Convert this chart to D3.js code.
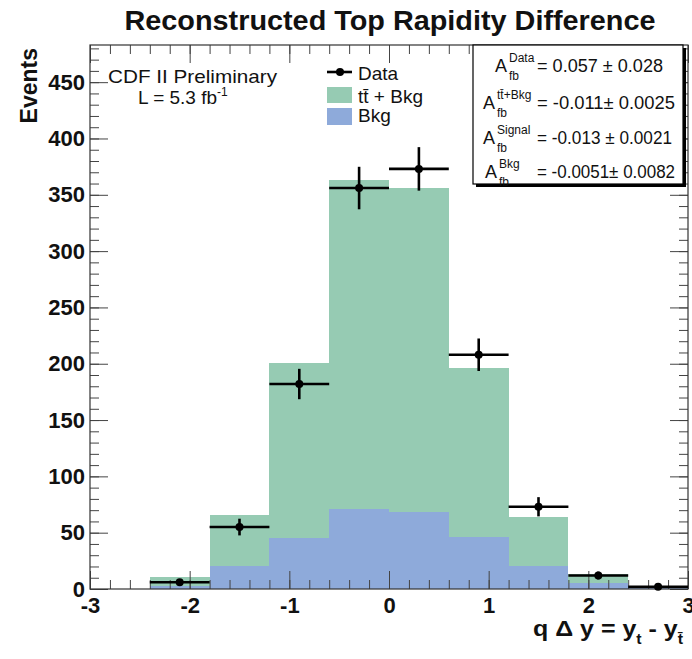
<!DOCTYPE html>
<html><head><meta charset="utf-8">
<script src="https://cdn.jsdelivr.net/npm/d3@7"></script>
<style>body{margin:0;background:#fff}svg text{font-family:"Liberation Sans",Arial,Helvetica,sans-serif}</style>
</head><body>
<svg id="c" width="692" height="659"></svg>
<script>
const binEdges = [-3, -2.4, -1.8, -1.2, -0.6, 0, 0.6, 1.2, 1.8, 2.4, 3];
const ttbarBkg = [0, 10.5, 65.5, 201, 363, 356, 196, 63.5, 13, 2];
const bkgOnly  = [0, 2.5, 20, 45.5, 71, 68.5, 46.5, 20, 5, 1];
const dataCounts = [null, 6, 55, 182, 356, 373, 208, 73, 12, 2];
const xTicks = [-3, -2, -1, 0, 1, 2, 3];
const yTicks = [0, 50, 100, 150, 200, 250, 300, 350, 400, 450];
const statLabels = ["Data", "t\u0074\u0304+Bkg", "Signal", "Bkg"];
const statValues = ["= 0.057 \u00b1 0.028", "= -0.011\u00b1 0.0025", "= -0.013 \u00b1 0.0021", "= -0.0051\u00b1 0.0082"];

const svg = d3.select("#c");
const L = 90, R = 688, T = 45, B = 589;
const x = d3.scaleLinear().domain([-3, 3]).range([L, R]);
const y = d3.scaleLinear().domain([0, 483]).range([B, T]);
const green = "#96cbb3", blue = "#8eaada";
const fmt = v => String(v).replace("\u2212", "-");

const bins = ttbarBkg.map((v, i) => ({x0: binEdges[i], x1: binEdges[i+1], tot: v, bkg: bkgOnly[i], d: dataCounts[i]}));

// histograms
svg.append("g").selectAll("rect").data(bins).join("rect")
  .attr("x", d => x(d.x0)).attr("width", d => x(d.x1) - x(d.x0))
  .attr("y", d => y(d.tot)).attr("height", d => y(0) - y(d.tot))
  .attr("fill", green).attr("shape-rendering", "crispEdges");
svg.append("g").selectAll("rect").data(bins).join("rect")
  .attr("x", d => x(d.x0)).attr("width", d => x(d.x1) - x(d.x0))
  .attr("y", d => y(d.bkg)).attr("height", d => y(0) - y(d.bkg))
  .attr("fill", blue).attr("shape-rendering", "crispEdges");

// axes (ticks inside)
const minorX = d3.range(-3, 3.001, 0.2).map(v => +v.toFixed(2));
const minorY = d3.range(0, 481, 10);
const tc = "#444";
function styleAxis(g){ g.select(".domain").remove(); g.selectAll("line").attr("stroke", tc); }
const labStyle = g => g.selectAll("text").attr("font-size", 22).attr("font-weight", "bold").attr("fill", "#111").attr("font-family", "'Liberation Sans',Arial,sans-serif");
svg.append("g").attr("transform", `translate(0,${B})`)
  .call(d3.axisBottom(x).tickValues(minorX).tickSize(-9).tickFormat("")).call(styleAxis);
svg.append("g").attr("transform", `translate(0,${B})`)
  .call(d3.axisBottom(x).tickValues(xTicks).tickSize(-18).tickPadding(8).tickFormat(fmt))
  .call(styleAxis).call(labStyle);
svg.append("g").attr("transform", `translate(0,${T})`)
  .call(d3.axisTop(x).tickValues(minorX).tickSize(-9).tickFormat("")).call(styleAxis);
svg.append("g").attr("transform", `translate(0,${T})`)
  .call(d3.axisTop(x).tickValues(xTicks).tickSize(-18).tickFormat("")).call(styleAxis);
svg.append("g").attr("transform", `translate(${L},0)`)
  .call(d3.axisLeft(y).tickValues(minorY).tickSize(-9).tickFormat("")).call(styleAxis);
svg.append("g").attr("transform", `translate(${L},0)`)
  .call(d3.axisLeft(y).tickValues(yTicks).tickSize(-18).tickPadding(5).tickFormat(fmt))
  .call(styleAxis).call(labStyle);
svg.append("g").attr("transform", `translate(${R},0)`)
  .call(d3.axisRight(y).tickValues(minorY).tickSize(-9).tickFormat("")).call(styleAxis);
svg.append("g").attr("transform", `translate(${R},0)`)
  .call(d3.axisRight(y).tickValues(yTicks).tickSize(-18).tickFormat("")).call(styleAxis);

// frame
svg.append("rect").attr("x", L).attr("y", T).attr("width", R - L).attr("height", B - T)
  .attr("fill", "none").attr("stroke", "#333").attr("stroke-width", 1.2);

// data points
const pts = bins.filter(d => d.d !== null);
const gp = svg.append("g").attr("stroke", "#000").attr("stroke-width", 2.6);
gp.selectAll("line.h").data(pts).join("line").attr("class", "h")
  .attr("x1", d => x(d.x0)).attr("x2", d => x(d.x1))
  .attr("y1", d => y(d.d)).attr("y2", d => y(d.d));
gp.selectAll("line.v").data(pts).join("line").attr("class", "v")
  .attr("x1", d => x((d.x0 + d.x1) / 2)).attr("x2", d => x((d.x0 + d.x1) / 2))
  .attr("y1", d => y(d.d + Math.sqrt(d.d))).attr("y2", d => y(d.d - Math.sqrt(d.d)));
svg.append("g").selectAll("circle").data(pts).join("circle")
  .attr("cx", d => x((d.x0 + d.x1) / 2)).attr("cy", d => y(d.d)).attr("r", 4).attr("fill", "#000");

// title
svg.append("text").attr("x", 390).attr("y", 30).attr("text-anchor", "middle")
  .attr("font-size", 28).attr("font-weight", "bold").attr("fill", "#111")
  .attr("textLength", 531).attr("lengthAdjust", "spacingAndGlyphs")
  .text("Reconstructed Top Rapidity Difference");

// y label
svg.append("text").attr("transform", "translate(37,48) rotate(-90)").attr("text-anchor", "end")
  .attr("font-size", 23).attr("font-weight", "bold").attr("fill", "#111").text("Events");

// x label
const xl = svg.append("text").attr("x", 533).attr("y", 636)
  .attr("font-size", 22).attr("font-weight", "bold").attr("fill", "#111")
  .attr("textLength", 150).attr("lengthAdjust", "spacingAndGlyphs");
xl.append("tspan").text("q \u0394 y = y");
xl.append("tspan").attr("font-size", 14).attr("dy", 8).text("t");
xl.append("tspan").attr("dy", -8).text(" - y");
xl.append("tspan").attr("font-size", 14).attr("dy", 8).text("t\u0304");

// CDF label
svg.append("text").attr("x", 108).attr("y", 83).attr("font-size", 19).attr("fill", "#111")
  .attr("textLength", 169).attr("lengthAdjust", "spacingAndGlyphs").text("CDF II Preliminary");
const lt = svg.append("text").attr("x", 138).attr("y", 104).attr("font-size", 19).attr("fill", "#111");
lt.append("tspan").text("L = 5.3 fb");
lt.append("tspan").attr("font-size", 12).attr("dy", -8).text("-1");

// legend
svg.append("line").attr("x1", 327).attr("x2", 352).attr("y1", 72).attr("y2", 72).attr("stroke", "#000").attr("stroke-width", 2.6);
svg.append("circle").attr("cx", 340).attr("cy", 72).attr("r", 4).attr("fill", "#000");
svg.append("rect").attr("x", 327).attr("y", 87).attr("width", 25).attr("height", 16).attr("fill", green);
svg.append("rect").attr("x", 327).attr("y", 108).attr("width", 25).attr("height", 17).attr("fill", blue);
svg.append("text").attr("x", 358).attr("y", 80).attr("font-size", 19).attr("fill", "#111").text("Data");
svg.append("text").attr("x", 358).attr("y", 103).attr("font-size", 19).attr("fill", "#111").text("t\u0074\u0304 + Bkg");
svg.append("text").attr("x", 358).attr("y", 122).attr("font-size", 19).attr("fill", "#111").text("Bkg");

// stats box
svg.append("rect").attr("x", 476).attr("y", 48).attr("width", 210).attr("height", 139).attr("fill", "#000");
svg.append("rect").attr("x", 473).attr("y", 45).attr("width", 210).attr("height", 139).attr("fill", "#fff").attr("stroke", "#000").attr("stroke-width", 1.2);
const rowY = [72, 109, 144, 178];
const aX = [495, 483, 483, 485];
const vW = [126, 138, 135, 138];
statValues.forEach((v, i) => {
  svg.append("text").attr("x", aX[i]).attr("y", rowY[i]).attr("font-size", 18).attr("fill", "#111").text("A");
  svg.append("text").attr("x", aX[i] + 14).attr("y", rowY[i] - 10).attr("font-size", 12).attr("fill", "#111").text(statLabels[i]);
  svg.append("text").attr("x", aX[i] + 14).attr("y", rowY[i] + 8).attr("font-size", 12).attr("fill", "#111").text("fb");
  svg.append("text").attr("x", 537).attr("y", rowY[i]).attr("font-size", 18).attr("fill", "#111")
    .attr("textLength", vW[i]).attr("lengthAdjust", "spacingAndGlyphs").text(v);
});
</script>
</body></html>
